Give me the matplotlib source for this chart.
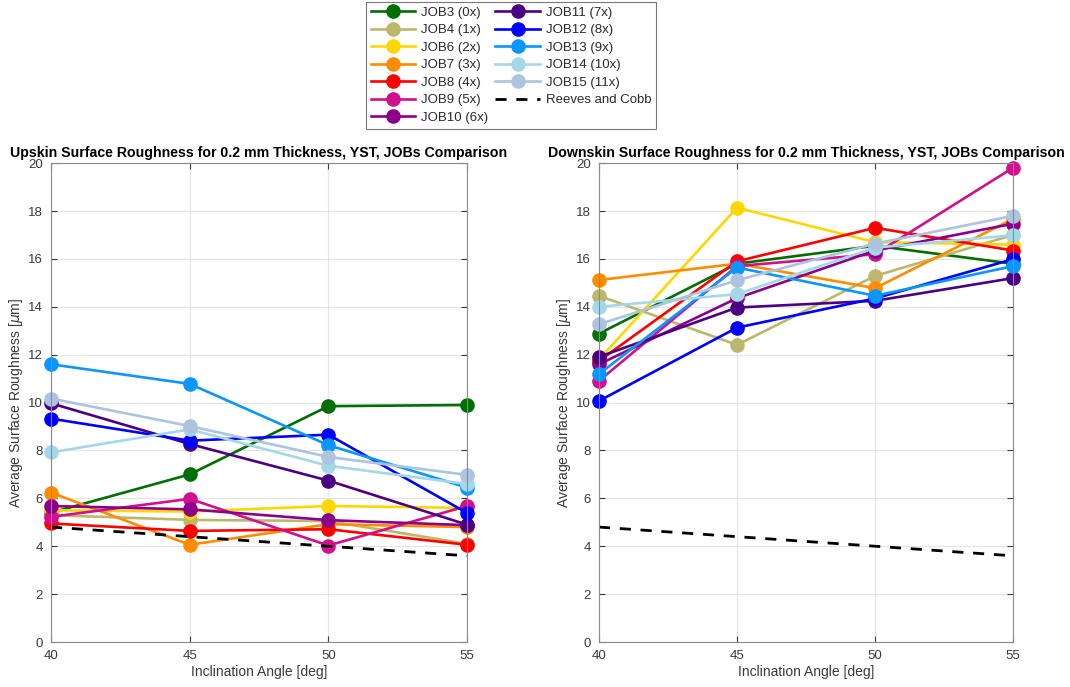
import numpy as np
import matplotlib
matplotlib.use("Agg")
import matplotlib.pyplot as plt

plt.rcParams['font.family'] = ['Liberation Sans', 'DejaVu Sans']

# Inclination angles [deg]
angulos = [40, 45, 50, 55]

nombres = ['JOB3 (0x)', 'JOB4 (1x)', 'JOB6 (2x)', 'JOB7 (3x)', 'JOB8 (4x)', 'JOB9 (5x)',
           'JOB10 (6x)', 'JOB11 (7x)', 'JOB12 (8x)', 'JOB13 (9x)', 'JOB14 (10x)', 'JOB15 (11x)']
colores = ['#006e00', '#bdb76b', '#ffd700', '#ff8c00', '#ff0000', '#d0108c',
           '#8b008b', '#4b0082', '#0000ff', '#0a96ff', '#a4d8e8', '#adc4e0']

# Upskin roughness [um]
upskin = [
    [5.4, 7.0, 9.85, 9.9],     # JOB3
    [5.3, 5.1, 5.05, 4.1],     # JOB4
    [5.5, 5.45, 5.68, 5.6],    # JOB6
    [6.24, 4.06, 4.92, 4.8],   # JOB7
    [4.95, 4.64, 4.71, 4.06],  # JOB8
    [5.23, 5.98, 4.03, 5.68],  # JOB9
    [5.68, 5.54, 5.09, 4.88],  # JOB10
    [9.97, 8.27, 6.74, 4.9],   # JOB11
    [9.33, 8.41, 8.66, 5.39],  # JOB12
    [11.6, 10.78, 8.22, 6.45], # JOB13
    [7.92, 8.88, 7.36, 6.6],   # JOB14
    [10.17, 9.02, 7.73, 6.98], # JOB15
]

# Downskin roughness [um]
downskin = [
    [12.88, 15.8, 16.55, 15.8],   # JOB3
    [14.46, 12.41, 15.29, 17.0],  # JOB4
    [11.8, 18.14, 16.7, 16.6],    # JOB6
    [15.12, 15.8, 14.78, 17.67],  # JOB7
    [11.74, 15.9, 17.3, 16.35],   # JOB8
    [10.91, 15.7, 16.2, 19.81],   # JOB9
    [11.6, 14.36, 16.35, 17.47],  # JOB10
    [11.91, 13.97, 14.25, 15.2],  # JOB11
    [10.07, 13.13, 14.35, 15.99], # JOB12
    [11.19, 15.64, 14.46, 15.7],  # JOB13
    [14.0, 14.53, 16.47, 16.99],  # JOB14
    [13.27, 15.11, 16.64, 17.8],  # JOB15
]

# Reeves and Cobb reference
reeves_cobb = [4.8, 4.4, 4.0, 3.6]

titulos = ['Upskin Surface Roughness for 0.2 mm Thickness, YST, JOBs Comparison',
           'Downskin Surface Roughness for 0.2 mm Thickness, YST, JOBs Comparison']

fig = plt.figure(figsize=(10.7, 6.87), dpi=100)
ax1 = fig.add_axes([0.0477, 0.0655, 0.3888, 0.697])
ax2 = fig.add_axes([0.5598, 0.0655, 0.387, 0.697])

for ax, datos, titulo in zip([ax1, ax2], [upskin, downskin], titulos):
    for serie, nombre, color in zip(datos, nombres, colores):
        ax.plot(angulos, serie, '-o', color=color, lw=1.9, ms=9.5, label=nombre, clip_on=False)
    ax.plot(angulos, reeves_cobb, '--', color='black', lw=2.0, dashes=(4, 3.5),
            label='Reeves and Cobb', clip_on=False)
    ax.set_xlim(40, 55)
    ax.set_ylim(0, 20)
    ax.set_xticks(angulos)
    ax.set_yticks(np.arange(0, 21, 2))
    ax.grid(True, color='#e6e6e6', lw=0.9)
    ax.set_axisbelow(True)
    ax.tick_params(direction='in', top=True, right=True, labelsize=9.5, colors='#3a3a3a', length=4)
    ax.tick_params(axis='y', pad=6)
    ax.tick_params(axis='x', pad=6)
    for sp in ax.spines.values():
        sp.set_color('#8a8a8a')
    ax.set_title(titulo, fontsize=10.2, fontweight='bold', pad=4.5)
    ax.set_xlabel('Inclination Angle [deg]', fontsize=10, color='#3a3a3a', labelpad=2)
    ax.set_ylabel(r'Average Surface Roughness [$\mu$m]', fontsize=10, color='#3a3a3a', labelpad=2)

handles, labels = ax1.get_legend_handles_labels()
leg = fig.legend(handles, labels, loc='upper center', bbox_to_anchor=(0.4776, 0.997),
                 ncol=2, fontsize=9.5, handlelength=3.4, columnspacing=0.5,
                 labelspacing=0.4, borderpad=0.35, borderaxespad=0.0, fancybox=False,
                 edgecolor='#555555', handletextpad=0.45)
leg.get_frame().set_linewidth(0.8)
for t in leg.get_texts():
    t.set_color('#2a2a2a')

fig.savefig('out.png', dpi=100)
